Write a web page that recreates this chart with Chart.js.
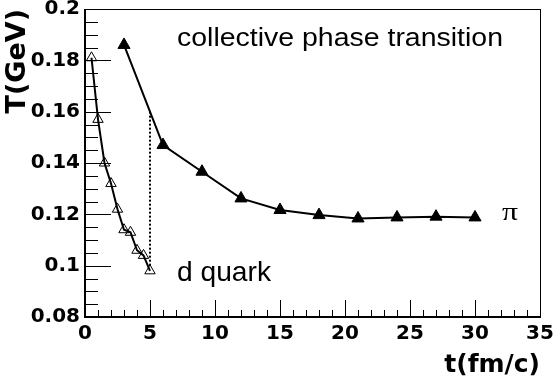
<!DOCTYPE html>
<html>
<head>
<meta charset="utf-8">
<script src="https://cdn.jsdelivr.net/npm/chart.js@4.4.1/dist/chart.umd.min.js"></script>
<style>
  html, body { margin: 0; padding: 0; background: #fff; }
  #wrap { width: 557px; height: 381px; position: relative; }
</style>
</head>
<body>
<div id="wrap"><canvas id="tempChart"></canvas></div>
<script>
// d quark (open triangles)
const quarkTime = [0.5, 1, 1.5, 2, 2.5, 3, 3.5, 4, 4.5, 5];
const quarkTemp = [0.181, 0.157, 0.140, 0.132, 0.122, 0.114, 0.113, 0.106, 0.104, 0.098];

// pion (filled triangles)
const pionTime = [3, 6, 9, 12, 15, 18, 21, 24, 27, 30];
const pionTemp = [0.186, 0.147, 0.1366, 0.1262, 0.1217, 0.1197, 0.1184, 0.1188, 0.1191, 0.1188];

// dotted marker for the collective phase transition
const transTime = [5, 5];
const transTemp = [0.100, 0.160];

const xTicks = [0, 5, 10, 15, 20, 25, 30, 35];
const yTicks = [0.08, 0.1, 0.12, 0.14, 0.16, 0.18, 0.2];

const toXY = (xs, ys) => xs.map((x, i) => ({ x: x, y: ys[i] }));

const boldFont = '"DejaVu Sans", Verdana, sans-serif';

// ROOT style frame with inward ticks and the text notes
const frameAndNotes = {
	id: 'frameAndNotes',
	afterDraw(chart) {
		const ctx = chart.ctx;
		const a = chart.chartArea;
		const xs = chart.scales.x;
		const ys = chart.scales.y;
		ctx.save();
		ctx.strokeStyle = '#000';

		// ticks
		ctx.lineWidth = 1;
		ctx.beginPath();
		for (let t = 0; t <= 35; t++) {
			const px = Math.round(xs.getPixelForValue(t)) + 0.5;
			const len = t % 5 === 0 ? 17 : 7;
			ctx.moveTo(px, a.bottom);
			ctx.lineTo(px, a.bottom - len);
		}
		for (let k = 0; k <= 24; k++) {
			const v = 0.08 + k * 0.005;
			const py = Math.round(ys.getPixelForValue(v)) + 0.5;
			const len = k % 4 === 0 ? 26 : 13;
			ctx.moveTo(a.left, py);
			ctx.lineTo(a.left + len, py);
		}
		ctx.stroke();

		// frame
		ctx.lineWidth = 1;
		ctx.strokeRect(a.left + 0.5, a.top + 0.5, a.right - a.left, a.bottom - a.top);
		ctx.lineWidth = 2;
		ctx.beginPath();
		ctx.moveTo(a.left, a.top);
		ctx.lineTo(a.left, a.bottom);
		ctx.lineTo(a.right, a.bottom);
		ctx.stroke();

		// notes, stretched to the reference width
		ctx.fillStyle = '#000';
		ctx.textBaseline = 'alphabetic';
		const note = (txt, font, x, y, w) => {
			ctx.font = font;
			const m = ctx.measureText(txt).width;
			ctx.save();
			ctx.translate(x, y);
			ctx.scale(w / m, 1);
			ctx.fillText(txt, 0, 0);
			ctx.restore();
		};
		note('collective phase transition', '26px "Liberation Sans", Arial', 177, 46, 326);
		note('d quark', '28px "Liberation Sans", Arial', 177, 281, 94);
		note('\u03c0', '26px "Liberation Serif", "Times New Roman", serif', 502, 220, 16);
		ctx.restore();
	}
};

new Chart(document.getElementById('tempChart'), {
	type: 'scatter',
	data: {
		datasets: [{
			label: 'pi',
			data: toXY(pionTime, pionTemp),
			showLine: true,
			borderColor: '#000',
			backgroundColor: '#000',
			borderWidth: 2,
			pointStyle: 'triangle',
			pointRadius: 7,
			pointBorderWidth: 1
		}, {
			label: 'd quark',
			data: toXY(quarkTime, quarkTemp),
			showLine: true,
			borderColor: '#000',
			backgroundColor: 'rgba(0,0,0,0)',
			borderWidth: 2,
			pointStyle: 'triangle',
			pointRadius: 6,
			pointBorderWidth: 1
		}, {
			label: 'transition',
			data: toXY(transTime, transTemp),
			showLine: true,
			borderColor: '#000',
			borderWidth: 2,
			borderDash: [2, 2],
			pointRadius: 0
		}]
	},
	options: {
		responsive: true,
		maintainAspectRatio: false,
		animation: false,
		layout: { padding: { top: 9, right: 17, left: 0, bottom: 0 } },
		plugins: {
			legend: { display: false },
			tooltip: { enabled: false }
		},
		scales: {
			x: {
				type: 'linear',
				min: 0,
				max: 35,
				afterFit: s => { s.height = 64; s.paddingLeft = 0; s.paddingRight = 0; },
				afterBuildTicks: s => { s.ticks = xTicks.map(v => ({ value: v })); },
				grid: { display: false, drawTicks: false },
				border: { display: false },
				ticks: {
					padding: 5,
					color: '#000',
					font: { family: boldFont, size: 20, weight: 'bold' },
					maxRotation: 0
				},
				title: {
					display: true,
					text: 't(fm/c)',
					align: 'end',
					color: '#000',
					padding: { top: 0, bottom: 1 },
					font: { family: boldFont, size: 25, weight: 'bold' }
				}
			},
			y: {
				type: 'linear',
				min: 0.08,
				max: 0.2,
				afterFit: s => { s.width = 85; s.paddingTop = 0; s.paddingBottom = 0; },
				afterBuildTicks: s => { s.ticks = yTicks.map(v => ({ value: v })); },
				grid: { display: false, drawTicks: false },
				border: { display: false },
				ticks: {
					padding: 5,
					color: '#000',
					font: { family: boldFont, size: 20, weight: 'bold' },
					callback: v => String(+v.toFixed(2))
				},
				title: {
					display: true,
					text: 'T(GeV)',
					align: 'end',
					color: '#000',
					padding: { top: 2, bottom: 0 },
					font: { family: boldFont, size: 27, weight: 'bold' }
				}
			}
		}
	},
	plugins: [frameAndNotes]
});
</script>
</body>
</html>
